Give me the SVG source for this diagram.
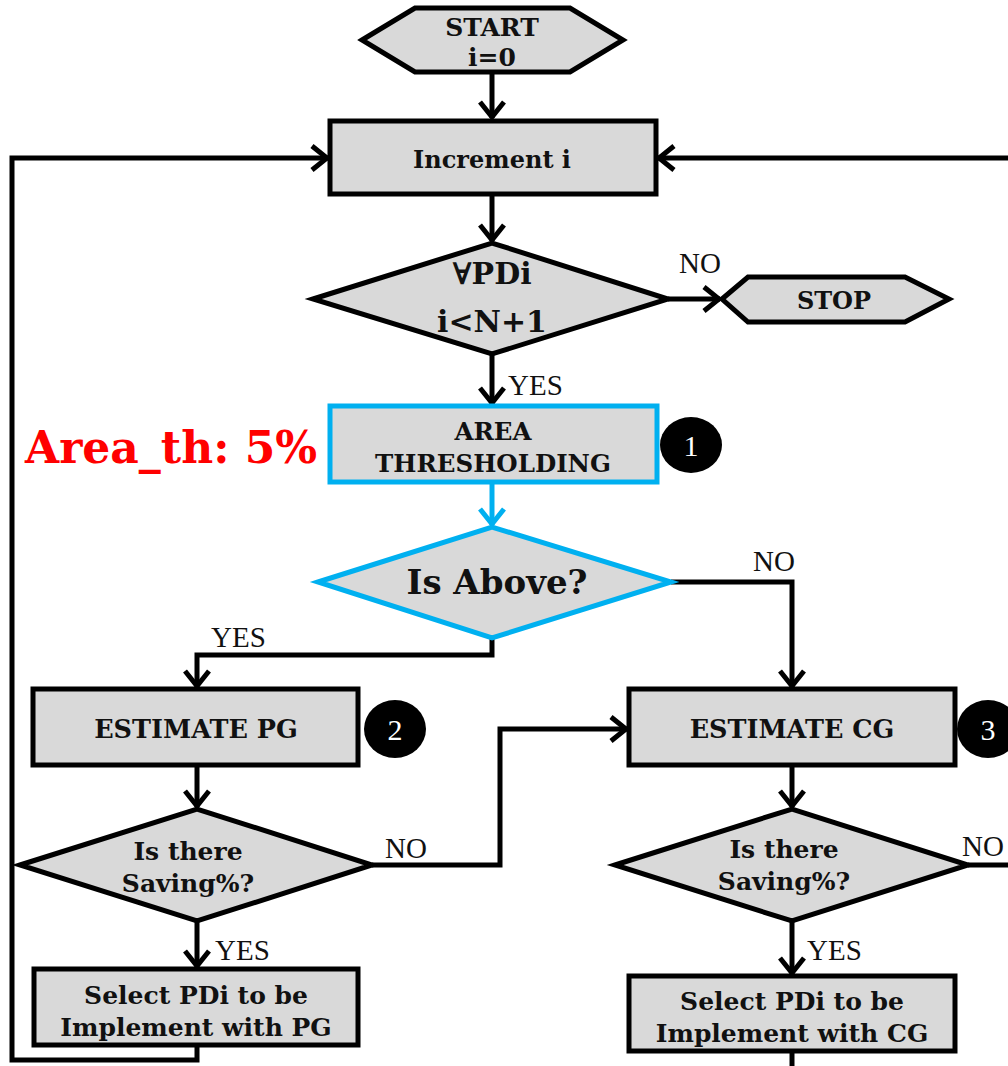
<svg xmlns="http://www.w3.org/2000/svg" width="1008" height="1066" viewBox="0 0 1008 1066">
<style>
.box{fill:#d9d9d9;stroke:#000;stroke-width:5;stroke-linejoin:miter}
.blue{fill:#d9d9d9;stroke:#00b0f0;stroke-width:5}
.t{font-family:"DejaVu Serif","Liberation Serif",serif;font-weight:bold;fill:#111;text-anchor:middle}
.lbl{font-family:"Liberation Serif","DejaVu Serif",serif;font-size:29px;fill:#111}
.c{fill:#000}
.ct{font-family:"Liberation Serif",serif;font-size:30px;fill:#fff;text-anchor:middle}
.ln{fill:none;stroke:#000;stroke-width:5;stroke-linejoin:miter}
.bl{fill:none;stroke:#00b0f0;stroke-width:5}
</style>
<defs>
<marker id="ah" viewBox="0 0 20 28" refX="18" refY="14" markerWidth="20" markerHeight="28" markerUnits="userSpaceOnUse" orient="auto">
<path d="M2,2 L17,14 L2,26" fill="none" stroke="#000" stroke-width="5"/>
</marker>
<marker id="ahb" viewBox="0 0 20 28" refX="18" refY="14" markerWidth="20" markerHeight="28" markerUnits="userSpaceOnUse" orient="auto">
<path d="M2,2 L17,14 L2,26" fill="none" stroke="#00b0f0" stroke-width="5"/>
</marker>
</defs>
<g id="connectors">
<path class="ln" d="M492,72 V118" marker-end="url(#ah)"/>
<path class="ln" d="M492,194 V241" marker-end="url(#ah)"/>
<path class="ln" d="M668,299 H720" marker-end="url(#ah)"/>
<path class="ln" d="M492,354 V404" marker-end="url(#ah)"/>
<path class="bl" d="M492,482 V525" marker-end="url(#ahb)"/>
<path class="ln" d="M671,582 H792 V687" marker-end="url(#ah)"/>
<path class="ln" d="M492,638 V655 H197 V687" marker-end="url(#ah)"/>
<path class="ln" d="M197,765 V807" marker-end="url(#ah)"/>
<path class="ln" d="M372,865 H500 V729 H627" marker-end="url(#ah)"/>
<path class="ln" d="M197,921 V967" marker-end="url(#ah)"/>
<path class="ln" d="M197,1045 V1060 H12 V158 H328" marker-end="url(#ah)"/>
<path class="ln" d="M1010,158 H658" marker-end="url(#ah)"/>
<path class="ln" d="M792,765 V807" marker-end="url(#ah)"/>
<path class="ln" d="M968,865 H1010"/>
<path class="ln" d="M792,921 V974" marker-end="url(#ah)"/>
<path class="ln" d="M792,1051 V1068"/>
<text class="lbl" x="679" y="273">NO</text>
<text class="lbl" x="508" y="395">YES</text>
<text class="lbl" x="753" y="571">NO</text>
<text class="lbl" x="211" y="647">YES</text>
<text class="lbl" x="385" y="858">NO</text>
<text class="lbl" x="215" y="960">YES</text>
<text class="lbl" x="962" y="856">NO</text>
<text class="lbl" x="807" y="960">YES</text>
</g>
<g id="start">
<polygon class="box" points="362,40 415,8 570,8 623,40 570,72 415,72"/>
<text class="t" x="492" y="36" font-size="25">START</text>
<text class="t" x="492" y="66" font-size="25">i=0</text>
</g>
<g id="increment">
<rect class="box" x="330" y="121" width="326" height="73"/>
<text class="t" x="492" y="168" font-size="24">Increment i</text>
</g>
<g id="loopcheck">
<polygon class="box" points="313,299 492,243 668,299 492,354"/>
<text class="t" x="492" y="284" font-size="30">∀PDi</text>
<text class="t" x="492" y="332" font-size="30">i&lt;N+1</text>
</g>
<g id="stop">
<polygon class="box" points="722,299 748,277 905,277 949,299 905,322 748,322"/>
<text class="t" x="834" y="309" font-size="24">STOP</text>
</g>
<g id="area">
<rect class="blue" x="330" y="406" width="327" height="76"/>
<text class="t" x="493" y="440" font-size="24.5">AREA</text>
<text class="t" x="493" y="472" font-size="24.5">THRESHOLDING</text>
<ellipse class="c" cx="691" cy="445" rx="31" ry="28"/>
<text class="ct" x="691" y="456">1</text>
<text x="25" y="463" font-family="DejaVu Serif,Liberation Serif,serif" font-weight="bold" font-size="44" fill="#ff0000">Area_th: 5%</text>
</g>
<g id="isabove">
<polygon class="blue" points="318,582 492,527 671,582 492,638"/>
<text class="t" x="497" y="594" font-size="34">Is Above?</text>
</g>
<g id="estpg">
<rect class="box" x="33" y="689" width="325" height="76"/>
<text class="t" x="196" y="738" font-size="25.5">ESTIMATE PG</text>
<ellipse class="c" cx="395" cy="729" rx="31" ry="29"/>
<text class="ct" x="395" y="740">2</text>
</g>
<g id="estcg">
<rect class="box" x="629" y="689" width="326" height="76"/>
<text class="t" x="792" y="738" font-size="25.5">ESTIMATE CG</text>
<ellipse class="c" cx="988" cy="729" rx="31" ry="29"/>
<text class="ct" x="988" y="740">3</text>
</g>
<g id="savepg">
<polygon class="box" points="20,865 197,809 372,865 197,921"/>
<text class="t" x="188" y="860" font-size="25">Is there</text>
<text class="t" x="188" y="892" font-size="25">Saving%?</text>
</g>
<g id="savecg">
<polygon class="box" points="615,865 792,809 968,865 792,921"/>
<text class="t" x="784" y="858" font-size="25">Is there</text>
<text class="t" x="784" y="890" font-size="25">Saving%?</text>
</g>
<g id="selpg">
<rect class="box" x="34" y="969" width="324" height="76"/>
<text class="t" x="196" y="1004" font-size="25">Select PDi to be</text>
<text class="t" x="196" y="1036" font-size="25">Implement with PG</text>
</g>
<g id="selcg">
<rect class="box" x="629" y="976" width="326" height="75"/>
<text class="t" x="792" y="1010" font-size="25">Select PDi to be</text>
<text class="t" x="792" y="1042" font-size="25">Implement with CG</text>
</g>
</svg>
